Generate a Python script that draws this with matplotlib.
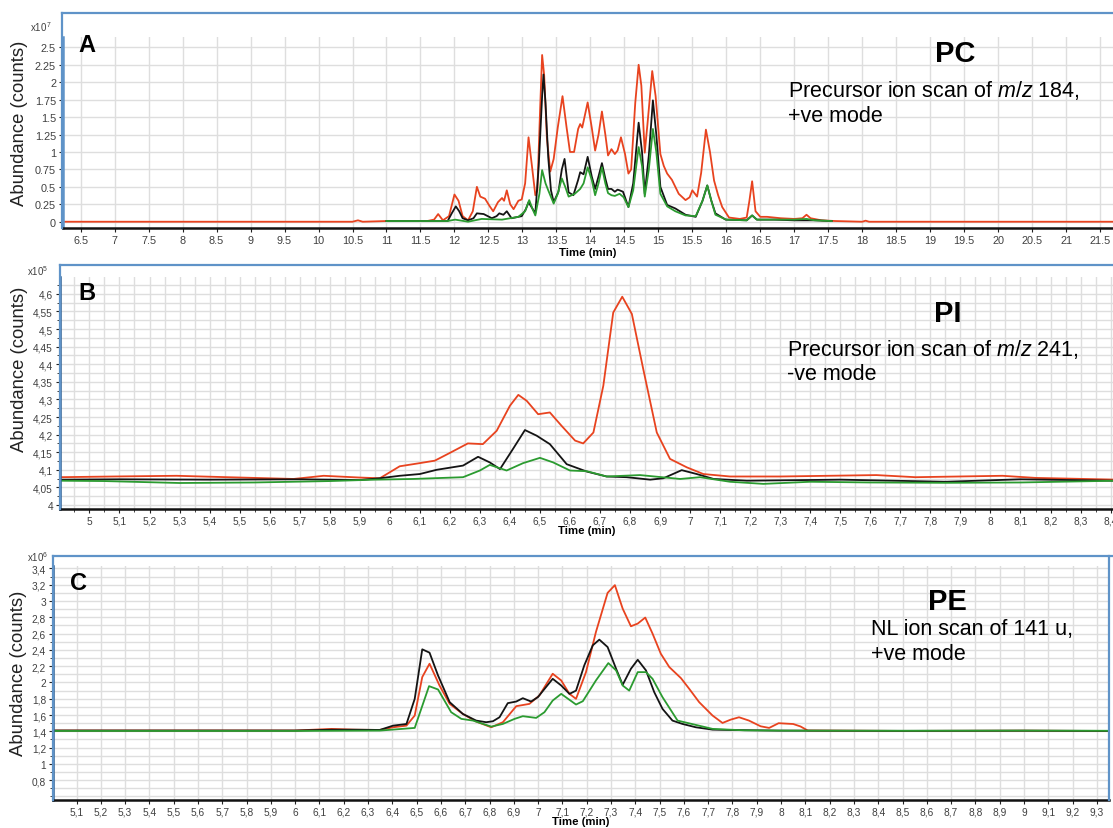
"""Three stacked LC-MS/MS chromatograms (PC / PI / PE head-group scans)."""
import matplotlib
matplotlib.use("Agg")
import matplotlib.pyplot as plt
import numpy as np
from matplotlib.lines import Line2D
from matplotlib.ticker import MultipleLocator, FuncFormatter

plt.rcParams["font.family"] = ["Liberation Sans", "DejaVu Sans"]
plt.rcParams["mathtext.fontset"] = "custom"
plt.rcParams["mathtext.rm"] = "Liberation Sans"
plt.rcParams["mathtext.it"] = "Liberation Sans:italic"
plt.rcParams["mathtext.bf"] = "Liberation Sans:bold"

# ---------------- Panel A: PC, precursor of m/z 184 (x10^7 counts) ----------------
a_red_t = [6.24, 10.5, 10.58, 10.65, 11.0, 11.6, 11.7, 11.76, 11.83, 11.92, 12.0, 12.06,
           12.12, 12.2, 12.27, 12.33, 12.38, 12.45, 12.52, 12.57, 12.64, 12.70, 12.73,
           12.77, 12.82, 12.87, 12.94, 12.99, 13.04, 13.09, 13.14, 13.19, 13.22, 13.26,
           13.29, 13.32, 13.36, 13.41, 13.46, 13.52, 13.59, 13.65, 13.70, 13.76, 13.82,
           13.85, 13.88, 13.96, 14.02, 14.07, 14.12, 14.17, 14.22, 14.26, 14.31, 14.36,
           14.40, 14.45, 14.51, 14.56, 14.60, 14.66, 14.71, 14.75, 14.80, 14.84, 14.91,
           14.96, 15.03, 15.08, 15.13, 15.20, 15.25, 15.30, 15.40, 15.46, 15.50, 15.57,
           15.63, 15.70, 15.76, 15.82, 15.88, 15.94, 16.04, 16.20, 16.30, 16.34, 16.38,
           16.43, 16.50, 16.60, 16.80, 17.0, 17.12, 17.18, 17.24, 17.4, 17.6, 18.0, 18.05,
           18.1, 21.7]
a_red_v = [0.0, 0.0, 0.02, 0.0, 0.01, 0.01, 0.03, 0.11, 0.02, 0.08, 0.39, 0.30,
           0.08, 0.02, 0.15, 0.50, 0.36, 0.33, 0.22, 0.15, 0.28, 0.34, 0.30,
           0.45, 0.25, 0.18, 0.30, 0.32, 0.55, 1.21, 0.80, 0.38, 0.45, 1.60,
           2.39, 2.10, 1.20, 0.72, 0.90, 1.35, 1.80, 1.35, 1.00, 1.00, 1.33,
           1.40, 1.35, 1.71, 1.35, 1.02, 1.25, 1.58, 1.25, 0.95, 1.04, 0.97,
           1.02, 1.21, 0.97, 0.69, 0.75, 1.70, 2.25, 1.95, 0.99, 1.40, 2.16,
           1.80, 0.97, 0.80, 0.69, 0.60, 0.50, 0.40, 0.31, 0.35, 0.45, 0.36,
           0.70, 1.32, 1.00, 0.59, 0.38, 0.21, 0.06, 0.04, 0.06, 0.30, 0.58,
           0.15, 0.07, 0.07, 0.05, 0.04, 0.05, 0.10, 0.05, 0.02, 0.01, 0.0, 0.015,
           0.0, 0.0]

a_black_t = [11.0, 11.9, 11.96, 12.02, 12.07, 12.12, 12.2, 12.28, 12.33, 12.43, 12.49,
             12.55, 12.62, 12.66, 12.72, 12.77, 12.84, 12.94, 12.99, 13.05, 13.09, 13.14,
             13.19, 13.24, 13.29, 13.31, 13.34, 13.38, 13.42, 13.46, 13.53, 13.58, 13.62,
             13.68, 13.75, 13.82, 13.85, 13.90, 13.96, 14.02, 14.07, 14.12, 14.17, 14.22,
             14.26, 14.31, 14.36, 14.40, 14.43, 14.48, 14.56, 14.63, 14.71, 14.76, 14.80,
             14.86, 14.92, 14.97, 15.03, 15.13, 15.25, 15.40, 15.55, 15.65, 15.72, 15.78,
             15.84, 15.99, 16.3, 16.38, 16.45, 16.7, 17.0, 17.3, 17.55]
a_black_v = [0.01, 0.01, 0.12, 0.22, 0.15, 0.05, 0.02, 0.05, 0.12, 0.11, 0.08,
             0.05, 0.08, 0.12, 0.10, 0.15, 0.05, 0.07, 0.08, 0.18, 0.28, 0.20,
             0.12, 0.80, 1.80, 2.11, 1.70, 0.92, 0.45, 0.28, 0.43, 0.75, 0.90,
             0.42, 0.38, 0.60, 0.71, 0.68, 0.93, 0.65, 0.47, 0.65, 0.84, 0.62,
             0.47, 0.47, 0.43, 0.46, 0.45, 0.43, 0.21, 0.55, 1.42, 1.00, 0.40,
             0.95, 1.74, 1.25, 0.50, 0.24, 0.19, 0.10, 0.07, 0.30, 0.52, 0.30,
             0.12, 0.03, 0.02, 0.09, 0.03, 0.03, 0.02, 0.02, 0.01]

a_green_t = [11.0, 11.9, 12.01, 12.2, 12.40, 12.70, 12.94, 13.04, 13.10, 13.15, 13.19,
             13.25, 13.29, 13.34, 13.38, 13.46, 13.52, 13.58, 13.63, 13.68, 13.77, 13.85,
             13.90, 13.96, 14.02, 14.07, 14.12, 14.17, 14.22, 14.26, 14.31, 14.36, 14.43,
             14.49, 14.56, 14.63, 14.71, 14.76, 14.80, 14.86, 14.92, 14.97, 15.03, 15.13,
             15.25, 15.40, 15.55, 15.65, 15.72, 15.78, 15.84, 16.0, 16.3, 16.38, 16.45,
             16.7, 17.0, 17.18, 17.3, 17.55]
a_green_v = [0.01, 0.01, 0.03, 0.0, 0.04, 0.03, 0.07, 0.15, 0.31, 0.18, 0.09,
             0.40, 0.74, 0.55, 0.45, 0.26, 0.40, 0.62, 0.50, 0.36, 0.40, 0.47,
             0.55, 0.78, 0.60, 0.38, 0.55, 0.78, 0.55, 0.41, 0.38, 0.37, 0.40,
             0.35, 0.21, 0.45, 1.07, 0.80, 0.36, 0.75, 1.33, 1.00, 0.40, 0.22,
             0.15, 0.09, 0.08, 0.30, 0.52, 0.30, 0.10, 0.03, 0.02, 0.09, 0.03,
             0.03, 0.03, 0.04, 0.02, 0.01]

# ---------------- Panel B: PI, precursor of m/z 241 (x10^5 counts) ----------------
b_red_t = [4.90, 5.08, 5.29, 5.46, 5.68, 5.78, 5.90, 5.967, 6.033, 6.10, 6.15, 6.20,
           6.26, 6.31, 6.356, 6.40, 6.428, 6.456, 6.494, 6.533, 6.572, 6.617, 6.644,
           6.678, 6.711, 6.744, 6.774, 6.806, 6.844, 6.889, 6.933, 6.989, 7.044, 7.133,
           7.30, 7.62, 7.75, 8.04, 8.15, 8.42]
b_red_v = [4.079, 4.081, 4.083, 4.079, 4.074, 4.083, 4.078, 4.076, 4.110, 4.119, 4.126,
           4.148, 4.175, 4.173, 4.211, 4.282, 4.313, 4.296, 4.258, 4.263, 4.225, 4.183,
           4.175, 4.206, 4.339, 4.547, 4.592, 4.543, 4.386, 4.206, 4.131, 4.107, 4.088,
           4.081, 4.081, 4.085, 4.079, 4.083, 4.077, 4.072]

b_black_t = [4.90, 5.10, 5.40, 5.70, 5.90, 5.967, 6.033, 6.10, 6.156, 6.244, 6.294,
             6.333, 6.367, 6.41, 6.45, 6.489, 6.533, 6.589, 6.656, 6.722, 6.789, 6.867,
             6.911, 6.972, 7.022, 7.078, 7.189, 7.50, 7.85, 8.10, 8.42]
b_black_v = [4.072, 4.073, 4.072, 4.073, 4.071, 4.076, 4.083, 4.088, 4.100, 4.112, 4.137,
             4.121, 4.102, 4.159, 4.213, 4.197, 4.173, 4.116, 4.095, 4.081, 4.079, 4.072,
             4.076, 4.099, 4.088, 4.074, 4.069, 4.072, 4.066, 4.073, 4.069]

b_green_t = [4.90, 5.05, 5.30, 5.55, 5.80, 5.95, 6.078, 6.244, 6.30, 6.333, 6.389,
             6.444, 6.50, 6.544, 6.60, 6.656, 6.722, 6.833, 6.967, 7.033, 7.133, 7.244,
             7.40, 7.60, 7.85, 8.10, 8.42]
b_green_v = [4.069, 4.068, 4.0625, 4.064, 4.068, 4.072, 4.074, 4.079, 4.098, 4.114, 4.098,
             4.119, 4.134, 4.121, 4.098, 4.096, 4.081, 4.085, 4.074, 4.079, 4.066, 4.060,
             4.066, 4.064, 4.063, 4.064, 4.069]

# ---------------- Panel C: PE, neutral loss of 141 u (x10^6 counts) ----------------
c_red_t = [5.0, 5.5, 6.0, 6.15, 6.25, 6.348, 6.403, 6.458, 6.492, 6.523, 6.553, 6.594,
           6.636, 6.69, 6.745, 6.807, 6.855, 6.91, 6.964, 7.005, 7.06, 7.095, 7.129,
           7.156, 7.197, 7.238, 7.286, 7.316, 7.348, 7.382, 7.41, 7.441, 7.471, 7.505,
           7.54, 7.588, 7.622, 7.663, 7.718, 7.759, 7.793, 7.827, 7.868, 7.916, 7.951,
           7.99, 8.05, 8.08, 8.11, 8.5, 9.0, 9.35]
c_red_v = [1.41, 1.41, 1.41, 1.43, 1.42, 1.417, 1.45, 1.47, 1.594, 2.066, 2.23, 1.963,
           1.737, 1.614, 1.52, 1.45, 1.512, 1.709, 1.737, 1.84, 2.107, 2.025, 1.86,
           1.799, 2.127, 2.62, 3.10, 3.195, 2.907, 2.69, 2.723, 2.797, 2.60, 2.353,
           2.189, 2.053, 1.922, 1.758, 1.594, 1.503, 1.544, 1.573, 1.532, 1.462, 1.442,
           1.50, 1.49, 1.46, 1.41, 1.405, 1.408, 1.404]

c_black_t = [5.0, 5.5, 6.0, 6.15, 6.25, 6.348, 6.403, 6.458, 6.492, 6.523, 6.553, 6.588,
             6.636, 6.69, 6.745, 6.786, 6.814, 6.841, 6.875, 6.91, 6.937, 6.971, 6.999,
             7.06, 7.095, 7.129, 7.156, 7.19, 7.225, 7.252, 7.286, 7.321, 7.348, 7.382,
             7.41, 7.444, 7.478, 7.512, 7.553, 7.594, 7.649, 7.718, 7.786, 7.992, 8.5,
             9.0, 9.35]
c_black_v = [1.41, 1.41, 1.41, 1.42, 1.42, 1.417, 1.47, 1.49, 1.799, 2.407, 2.366, 2.086,
             1.758, 1.614, 1.532, 1.512, 1.524, 1.573, 1.746, 1.766, 1.807, 1.766, 1.82,
             2.045, 1.963, 1.86, 1.90, 2.21, 2.456, 2.526, 2.435, 2.168, 1.971, 2.168,
             2.279, 2.148, 1.881, 1.676, 1.532, 1.491, 1.45, 1.421, 1.417, 1.409, 1.406,
             1.408, 1.405]

c_green_t = [5.0, 5.5, 6.0, 6.348, 6.492, 6.551, 6.588, 6.642, 6.684, 6.732, 6.807,
             6.855, 6.903, 6.937, 6.992, 7.026, 7.06, 7.095, 7.156, 7.184, 7.238, 7.289,
             7.321, 7.348, 7.375, 7.41, 7.444, 7.471, 7.512, 7.574, 7.649, 7.718, 7.85,
             8.0, 8.5, 9.0, 9.35]
c_green_v = [1.405, 1.405, 1.405, 1.409, 1.442, 1.955, 1.914, 1.635, 1.553, 1.532, 1.458,
             1.491, 1.553, 1.586, 1.565, 1.635, 1.778, 1.86, 1.729, 1.77, 2.025, 2.238,
             2.148, 1.963, 1.90, 2.127, 2.127, 2.045, 1.82, 1.532, 1.479, 1.43, 1.412,
             1.409, 1.407, 1.409, 1.407]
c_yticks = [0.8, 1.0, 1.2, 1.4, 1.6, 1.8, 2.0, 2.2, 2.4, 2.6, 2.8, 3.0, 3.2, 3.4]

W, H = 1113, 829
RED, BLACK, GREEN = "#e8431f", "#141414", "#2b9b30"
FRAME = "#5f93c8"
GRID = "#dedede"
TICK = "#404040"


def box(left, top, right, bottom):
    return [left / W, 1 - bottom / H, (right - left) / W, (bottom - top) / H]


def frame_lines(fig, left, top, bottom, right=None):
    kw = dict(color=FRAME, lw=1.6, transform=fig.transFigure)
    fig.add_artist(Line2D([left / W, 1.0], [1 - top / H] * 2, **kw))
    fig.add_artist(Line2D([left / W] * 2, [1 - top / H, 1 - bottom / H], **kw))
    if right is not None:
        fig.add_artist(Line2D([right / W] * 2, [1 - top / H, 1 - bottom / H], **kw))


def fmt(comma):
    def f(v, _):
        s = f"{v:.3f}".rstrip("0").rstrip(".")
        if s == "-0":
            s = "0"
        return s.replace(".", ",") if comma else s
    return FuncFormatter(f)


def style(ax, xlim, ylim, xmaj, ymaj, xmin=None, ymin=None, comma=False,
          spine="#2d5f93", ticksize=7.3, xpad=-1):
    ax.set_xlim(*xlim)
    ax.set_ylim(*ylim)
    ax.xaxis.set_major_locator(MultipleLocator(xmaj))
    if isinstance(ymaj, list):
        ax.set_yticks(ymaj)
    else:
        ax.yaxis.set_major_locator(MultipleLocator(ymaj))
    if xmin:
        ax.xaxis.set_minor_locator(MultipleLocator(xmin))
    if ymin:
        ax.yaxis.set_minor_locator(MultipleLocator(ymin))
    ax.xaxis.set_major_formatter(fmt(comma))
    ax.yaxis.set_major_formatter(fmt(comma))
    ax.grid(True, which="both", color=GRID, lw=1.0)
    ax.set_axisbelow(True)
    for s in ("top", "right"):
        ax.spines[s].set_visible(False)
    ax.spines["bottom"].set_color("#111111")
    ax.spines["bottom"].set_linewidth(1.8)
    ax.spines["left"].set_color(spine)
    ax.spines["left"].set_linewidth(1.8)
    ax.tick_params(which="major", direction="out", length=3, width=0.8, color="#222222",
                   labelsize=ticksize, labelcolor=TICK, pad=2)
    ax.tick_params(which="minor", direction="out", length=2, width=0.6, color="#222222")
    ax.set_xlabel("Time (min)", fontsize=8.2, fontweight="bold", labelpad=xpad)
    ax.set_ylabel("Abundance (counts)", fontsize=13.3, color="#222222")


def traces(ax, data):
    for (t, v), c in zip(data, (RED, BLACK, GREEN)):
        ax.plot(t, v, color=c, lw=1.3, solid_joinstyle="round")


def main() -> None:
    fig = plt.figure(figsize=(W / 100, H / 100), dpi=100)

    # ---- A ----
    ax = fig.add_axes(box(63, 38, 1113, 229))
    style(ax, (6.24, 21.69), (-0.09, 2.648), 0.5, 0.25, comma=False, spine=FRAME,
          ticksize=7.8, xpad=1.5)
    traces(ax, [(a_red_t, a_red_v), (a_black_t, a_black_v), (a_green_t, a_green_v)])
    frame_lines(fig, 62, 14, 229)
    ax.yaxis.set_label_coords(-35 / (1113 - 63), 0.555)
    fig.text(30 / W, 1 - 27 / H, r"x10$^{\,7}$", fontsize=7, color=TICK, va="center")
    fig.text(78 / W, 1 - 45 / H, "A", fontsize=17, fontweight="bold", va="center")
    fig.text(955 / W, 1 - 54 / H, "PC", fontsize=21, fontweight="bold", ha="center", va="center")
    fig.text(788 / W, 1 - 91 / H, r"Precursor ion scan of $\it{m/z}$ 184,", fontsize=15.5, va="center")
    fig.text(788 / W, 1 - 116 / H, "+ve mode", fontsize=15.5, va="center")

    # ---- B ----
    ax = fig.add_axes(box(60, 278, 1113, 510))
    style(ax, (4.902, 8.408), (3.9886, 4.648), 0.1, 0.05, xmin=0.05, ymin=0.025, comma=True)
    traces(ax, [(b_red_t, b_red_v), (b_black_t, b_black_v), (b_green_t, b_green_v)])
    frame_lines(fig, 60, 266, 510)
    ax.yaxis.set_label_coords(-32 / (1113 - 60), 0.608)
    fig.text(27 / W, 1 - 271 / H, r"x10$^{5}$", fontsize=7, color=TICK, va="center")
    fig.text(78 / W, 1 - 294 / H, "B", fontsize=17, fontweight="bold", va="center")
    fig.text(948 / W, 1 - 314 / H, "PI", fontsize=21, fontweight="bold", ha="center", va="center")
    fig.text(787 / W, 1 - 350 / H, r"Precursor ion scan of $\it{m/z}$ 241,", fontsize=15.5, va="center")
    fig.text(787 / W, 1 - 375 / H, "-ve mode", fontsize=15.5, va="center")

    # ---- C ----
    ax = fig.add_axes(box(53, 567, 1109, 801))
    style(ax, (5.003, 9.35), (0.557, 3.43), 0.1, c_yticks, ymin=0.1, comma=True)
    traces(ax, [(c_red_t, c_red_v), (c_black_t, c_black_v), (c_green_t, c_green_v)])
    frame_lines(fig, 53, 557, 801, right=1109)
    ax.yaxis.set_label_coords(-26 / (1109 - 53), 0.547)
    fig.text(27 / W, 1 - 557 / H, r"x10$^{6}$", fontsize=7, color=TICK, va="center")
    fig.text(70 / W, 1 - 584 / H, "C", fontsize=17, fontweight="bold", va="center")
    fig.text(947 / W, 1 - 602 / H, "PE", fontsize=21, fontweight="bold", ha="center", va="center")
    fig.text(871 / W, 1 - 630 / H, "NL ion scan of 141 u,", fontsize=15.5, va="center")
    fig.text(871 / W, 1 - 655 / H, "+ve mode", fontsize=15.5, va="center")

    fig.savefig("out.png", dpi=100)
    plt.close(fig)


if __name__ == "__main__":
    main()
